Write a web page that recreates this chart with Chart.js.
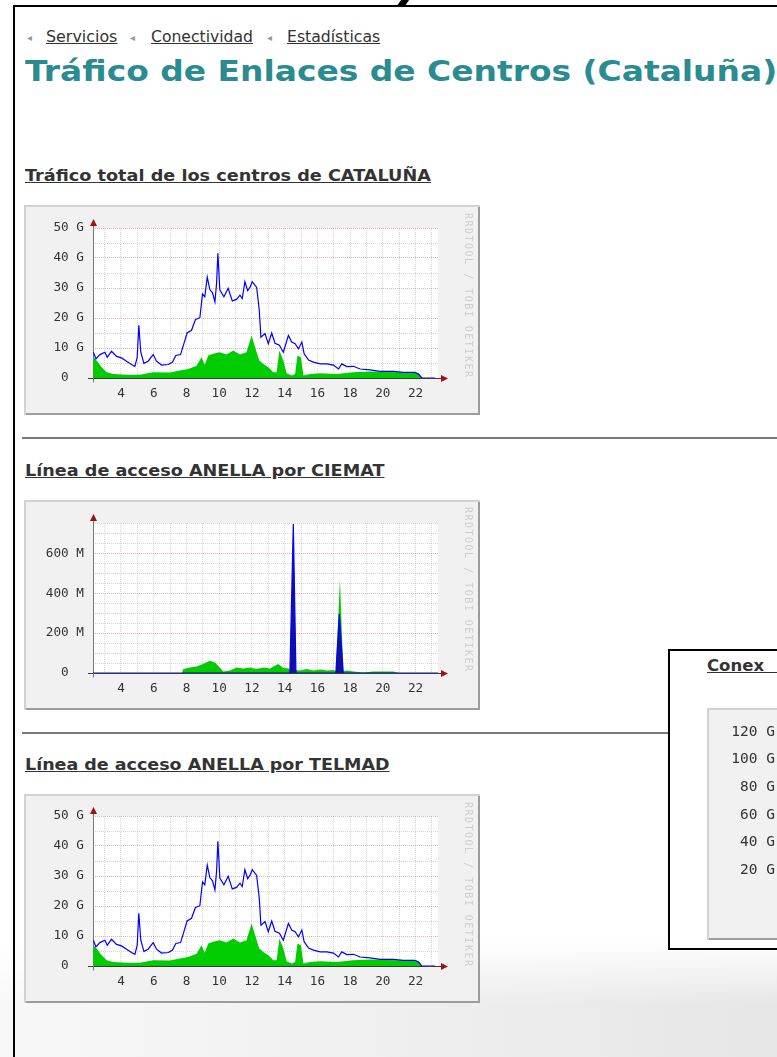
<!DOCTYPE html>
<html>
<head>
<meta charset="utf-8">
<script src="https://cdn.jsdelivr.net/npm/chart.js@4.4.1/dist/chart.umd.min.js"></script>
<style>
  html, body { margin: 0; padding: 0; }
  body { width: 777px; height: 1057px; overflow: hidden; position: relative; background: #fff;
         font-family: "DejaVu Sans", Verdana, sans-serif; color: #333; }
  .abs { position: absolute; white-space: nowrap; }
  .fit { transform-origin: 0 50%; }
  .crumb { font-size: 15px; line-height: 16px; color: #333; text-decoration: underline; }
  .arrow { font-size: 10px; line-height: 16px; color: #999; }
  .title { font-size: 28px; line-height: 32px; font-weight: bold; color: #2a8b91; }
  .head { font-size: 16px; line-height: 18px; font-weight: bold; color: #333; text-decoration: underline; }
  .rule { height: 2px; background: #7a7a7a; }
  .box { position: absolute; background: #f1f1f1;
         box-shadow: inset 2px 2px 0 #d2d2d2, inset -2px -2px 0 #9c9c9c; }
  .box canvas { position: absolute; left: 0; top: 0; }
  .mark { position: absolute; writing-mode: vertical-rl; font: 10px/10px "DejaVu Sans Mono", monospace;
          letter-spacing: 1.5px; color: #cdcdcd; white-space: nowrap; }
</style>
</head>
<body>
<div class="abs" style="left:0;top:940px;width:777px;height:117px;
  background:linear-gradient(to bottom, #fff 0%, rgba(255,255,255,0) 55%), linear-gradient(to right, #f8f8f8, #e6e6e6);"></div>

<div class="abs" style="left:13px;top:5px;width:2px;height:1052px;background:#000"></div>
<div class="abs" style="left:13px;top:5px;width:764px;height:2px;background:#000"></div>
<div class="abs" style="left:399px;top:0;width:8px;height:6px;background:#000;transform:skewX(-35deg)"></div>

<span class="abs arrow" style="left:27px;top:30px">◂</span>
<span class="abs crumb fit" data-w="71" style="left:46px;top:29px">Servicios</span>
<span class="abs arrow" style="left:130px;top:30px">◂</span>
<span class="abs crumb fit" data-w="102" style="left:151px;top:29px">Conectividad</span>
<span class="abs arrow" style="left:267px;top:30px">◂</span>
<span class="abs crumb fit" data-w="93" style="left:287px;top:29px">Estadísticas</span>

<div class="abs title fit" data-w="752" style="left:25px;top:56px">Tráfico de Enlaces de Centros (Cataluña)</div>

<div class="abs head fit" data-w="406" style="left:25px;top:167px">Tráfico total de los centros de CATALUÑA</div>
<div class="box" style="left:24px;top:205px;width:456px;height:210px">
  <canvas id="c1" width="456" height="210"></canvas>
  <span class="mark" style="left:439px;top:8px">RRDTOOL / TOBI OETIKER</span>
</div>

<div class="abs rule" style="left:22px;top:437px;width:755px"></div>

<div class="abs head fit" data-w="359" style="left:25px;top:462px">Línea de acceso ANELLA por CIEMAT</div>
<div class="box" style="left:24px;top:500px;width:456px;height:210px">
  <canvas id="c2" width="456" height="210"></canvas>
  <span class="mark" style="left:439px;top:7px">RRDTOOL / TOBI OETIKER</span>
</div>

<div class="abs rule" style="left:22px;top:732px;width:646px"></div>

<div class="abs head fit" data-w="364" style="left:25px;top:756px">Línea de acceso ANELLA por TELMAD</div>
<div class="box" style="left:24px;top:794px;width:456px;height:209px">
  <canvas id="c3" width="456" height="209"></canvas>
  <span class="mark" style="left:439px;top:8px">RRDTOOL / TOBI OETIKER</span>
</div>

<div class="abs" style="left:668px;top:649px;width:200px;height:297px;background:#fff;border:2px solid #000;overflow:hidden">
  <span class="abs head" style="left:37px;top:6px;font-size:16.5px">Conex&nbsp;&nbsp;&nbsp;</span>
  <div class="box" style="left:37px;top:57px;width:456px;height:232px">
    <canvas id="c4" width="456" height="232"></canvas>
  </div>
</div>

<script>
// eje horizontal (horas del día)
const xMin = 2.29;
const xMax = 23.37;
const xTicks = [3, 4, 5, 6, 7, 8, 9, 10, 11, 12, 13, 14, 15, 16, 17, 18, 19, 20, 21, 22, 23];
const xLabels = [4, 6, 8, 10, 12, 14, 16, 18, 20, 22];

// Tráfico total de Cataluña (Gb/s) -- la gráfica de TELMAD es idéntica
const totalOutHours = [2.31, 2.47, 2.71, 3.02, 3.16, 3.42, 3.73, 4.03, 4.34, 4.64, 4.85, 4.99, 5.09, 5.21, 5.40, 5.66, 5.81, 5.97, 6.17, 6.48, 6.89, 7.15, 7.35, 7.64, 7.84, 8.04, 8.31, 8.55, 8.82, 8.98, 9.12, 9.27, 9.43, 9.59, 9.74, 9.84, 9.92, 10.04, 10.29, 10.55, 10.80, 11.06, 11.27, 11.41, 11.57, 11.74, 11.88, 12.02, 12.29, 12.45, 12.55, 12.80, 13.00, 13.21, 13.41, 13.68, 13.92, 14.23, 14.43, 14.64, 14.84, 15.05, 15.19, 15.46, 15.76, 16.17, 16.58, 16.98, 17.29, 17.49, 17.80, 18.20, 18.61, 19.22, 19.83, 20.65, 21.26, 21.97, 22.18, 22.38, 23.20];
const totalOut = [8.6, 6.4, 7.8, 8.6, 6.9, 8.9, 7.2, 6.7, 5.6, 4.5, 3.9, 6.9, 17.6, 8.6, 4.9, 5.6, 6.7, 7.8, 5.6, 4.3, 4.5, 5.3, 7.5, 7.8, 11.4, 15.0, 15.9, 19.5, 20.1, 28.0, 27.1, 33.6, 29.5, 28.4, 25.4, 31.5, 41.6, 29.3, 27.1, 29.9, 25.7, 26.2, 27.6, 26.5, 32.1, 29.1, 30.2, 32.1, 30.2, 22.6, 13.6, 14.8, 11.4, 15.0, 11.6, 10.9, 8.6, 14.2, 12.0, 11.4, 9.7, 12.0, 8.1, 6.0, 5.3, 4.7, 4.7, 4.3, 3.0, 4.7, 3.8, 3.9, 3.0, 2.7, 2.2, 2.2, 1.9, 1.9, 1.3, 0, 0];
const totalInHours = [2.31, 2.51, 2.82, 3.12, 3.53, 4.34, 5.15, 5.97, 6.99, 7.60, 8.11, 8.62, 8.92, 9.12, 9.33, 9.63, 10.04, 10.45, 10.86, 11.27, 11.67, 11.98, 12.19, 12.45, 12.70, 13.00, 13.31, 13.51, 13.68, 13.92, 14.12, 14.43, 14.64, 14.78, 14.99, 15.15, 15.56, 16.17, 17.19, 18.20, 19.22, 20.24, 21.26, 22.18, 22.38];
const totalIn = [6.9, 5.8, 3.6, 1.9, 1.3, 1.1, 1.1, 1.9, 1.8, 2.5, 3.0, 4.1, 6.9, 4.4, 7.5, 8.1, 8.6, 7.8, 9.2, 7.8, 8.6, 14.2, 10.3, 5.8, 4.7, 3.6, 1.9, 1.9, 9.2, 5.8, 1.6, 0.8, 1.3, 7.5, 6.9, 0.8, 1.3, 1.6, 1.3, 1.9, 2.2, 2.0, 1.9, 1.6, 0];
const totalYTicks = [0, 5, 10, 15, 20, 25, 30, 35, 40, 45, 50];
const totalYLabels = ['0  ', '', '10 G', '', '20 G', '', '30 G', '', '40 G', '', '50 G'];

// Línea ANELLA por CIEMAT (Mb/s)
const ciematInHours = [7.71, 7.81, 8.21, 8.62, 9.02, 9.43, 9.74, 10.04, 10.25, 10.66, 11.06, 11.47, 11.88, 12.29, 12.70, 13.10, 13.61, 13.92, 14.23, 14.43, 14.53, 14.66, 14.94, 15.35, 15.76, 16.17, 16.58, 16.98, 17.13, 17.38, 17.58, 17.80, 18.20, 18.81, 19.42, 20.04, 20.65, 20.96];
const ciematIn = [0, 20, 28, 32, 45, 62, 53, 28, 8, 12, 28, 23, 28, 20, 28, 23, 45, 25, 23, 15, 20, 15, 12, 20, 12, 17, 12, 15, 10, 471, 10, 12, 8, 3, 8, 8, 8, 0];
const ciematOutHours = [2.29, 14.32, 14.53, 14.69, 17.13, 17.34, 17.58, 23.37];
const ciematOut = [0, 0, 747, 0, 0, 296, 0, 0];
const ciematYTicks = [0, 50, 100, 150, 200, 250, 300, 350, 400, 450, 500, 550, 600, 650, 700, 750];
const ciematYLabels = ['0  ', '', '', '', '200 M', '', '', '', '400 M', '', '', '', '600 M', '', '', ''];

// Conexión (solo se ve el eje vertical)
const conexYTicks = [0, 10, 20, 30, 40, 50, 60, 70, 80, 90, 100, 110, 120];
const conexYLabels = ['', '', '20 G', '', '40 G', '', '60 G', '', '80 G', '', '100 G', '', '120 G'];

const GRID = 'rgba(140,140,140,0.35)';
const MGRID = 'rgba(190,60,60,0.40)';

function pts(xs, ys) {
  return xs.map((x, i) => ({ x: x, y: ys[i] }));
}

// fondo blanco del área, ejes y flechas al estilo rrdtool
const rrdPlugin = {
  id: 'rrd',
  beforeDraw(chart) {
    const { ctx, chartArea: a } = chart;
    ctx.save();
    ctx.fillStyle = '#fff';
    ctx.fillRect(a.left, a.top, a.right - a.left, a.bottom - a.top);
    ctx.restore();
  },
  beforeDatasetsDraw(chart) {
    const { ctx, chartArea: a, scales } = chart;
    const y0 = Math.round(scales.y.getPixelForValue(0)) + 0.5;
    const x0 = Math.round(a.left) + 0.5;
    ctx.save();
    ctx.lineWidth = 1;
    ctx.strokeStyle = '#3a3a3a';
    ctx.beginPath();
    ctx.moveTo(a.left - 5, y0);
    ctx.lineTo(a.right + 5, y0);
    ctx.stroke();
    ctx.strokeStyle = '#777';
    ctx.beginPath();
    ctx.moveTo(x0, y0 + 4);
    ctx.lineTo(x0, a.top - 5);
    ctx.stroke();
    ctx.fillStyle = '#a01010';
    ctx.beginPath();
    ctx.moveTo(a.right + 10, y0);
    ctx.lineTo(a.right + 3, y0 - 3.5);
    ctx.lineTo(a.right + 3, y0 + 3.5);
    ctx.closePath();
    ctx.fill();
    ctx.beginPath();
    ctx.moveTo(x0, a.top - 9);
    ctx.lineTo(x0 - 3.5, a.top - 2);
    ctx.lineTo(x0 + 3.5, a.top - 2);
    ctx.closePath();
    ctx.fill();
    ctx.restore();
  }
};

function rrdChart(id, c) {
  const tickFont = { family: 'DejaVu Sans Mono', size: c.fontSize || 12.7 };
  return new Chart(document.getElementById(id), {
    type: 'line',
    data: { datasets: c.datasets },
    options: {
      responsive: false,
      animation: false,
      events: [],
      layout: { padding: { top: c.top, right: c.right, left: 0, bottom: 0 } },
      plugins: { legend: { display: false }, tooltip: { enabled: false } },
      elements: { point: { radius: 0 }, line: { tension: 0 } },
      scales: {
        x: {
          type: 'linear',
          min: xMin,
          max: xMax,
          afterBuildTicks: s => { s.ticks = xTicks.map(v => ({ value: v })); },
          afterFit: s => { s.height = c.bottomH; },
          ticks: {
            autoSkip: false, maxRotation: 0, padding: 8, color: '#333', font: tickFont,
            callback: v => (xLabels.includes(v) ? String(v) : '')
          },
          grid: { drawTicks: false, color: GRID },
          border: { display: false, dash: [1, 1] }
        },
        y: {
          min: 0,
          max: c.yMax,
          afterBuildTicks: s => { s.ticks = c.yTicks.map(v => ({ value: v })); },
          afterFit: s => { s.width = c.leftW; },
          ticks: {
            autoSkip: false, padding: 9, color: '#333', font: tickFont,
            callback: v => c.yLabels[c.yTicks.indexOf(v)]
          },
          grid: { drawTicks: false, color: ctx => (ctx.tick && c.yLabels[c.yTicks.indexOf(ctx.tick.value)] ? MGRID : GRID) },
          border: { display: false, dash: [1, 1] }
        }
      }
    },
    plugins: [rrdPlugin]
  });
}

function trafficSets(outH, out, inH, inn, outFill) {
  return [
    { data: pts(outH, out), borderColor: '#0000ff', borderWidth: 1.2,
      fill: outFill ? 'origin' : false, backgroundColor: '#12129a' },
    { data: pts(inH, inn), borderWidth: 0, borderColor: '#00cc00',
      backgroundColor: '#00cc00', fill: 'origin' }
  ];
}

function fitText() {
  document.querySelectorAll('.fit').forEach(el => {
    const w = parseFloat(el.dataset.w);
    el.style.transform = 'scaleX(' + (w / el.offsetWidth) + ')';
  });
}

function build() {
  fitText();
  rrdChart('c1', { datasets: trafficSets(totalOutHours, totalOut, totalInHours, totalIn, false),
    yMax: 50, yTicks: totalYTicks, yLabels: totalYLabels, top: 23, right: 42, leftW: 69, bottomH: 37 });
  rrdChart('c2', { datasets: trafficSets(ciematOutHours, ciematOut, ciematInHours, ciematIn, true),
    yMax: 752, yTicks: ciematYTicks, yLabels: ciematYLabels, top: 23, right: 42, leftW: 69, bottomH: 37 });
  rrdChart('c3', { datasets: trafficSets(totalOutHours, totalOut, totalInHours, totalIn, false),
    yMax: 50, yTicks: totalYTicks, yLabels: totalYLabels, top: 22, right: 42, leftW: 69, bottomH: 37 });
  rrdChart('c4', { datasets: [],
    yMax: 120, yTicks: conexYTicks, yLabels: conexYLabels, top: 24, right: 42, leftW: 77, bottomH: 42, fontSize: 14.5 });
}

if (document.fonts && document.fonts.ready) {
  document.fonts.ready.then(build);
} else {
  window.addEventListener('load', build);
}
</script>
</body>
</html>
